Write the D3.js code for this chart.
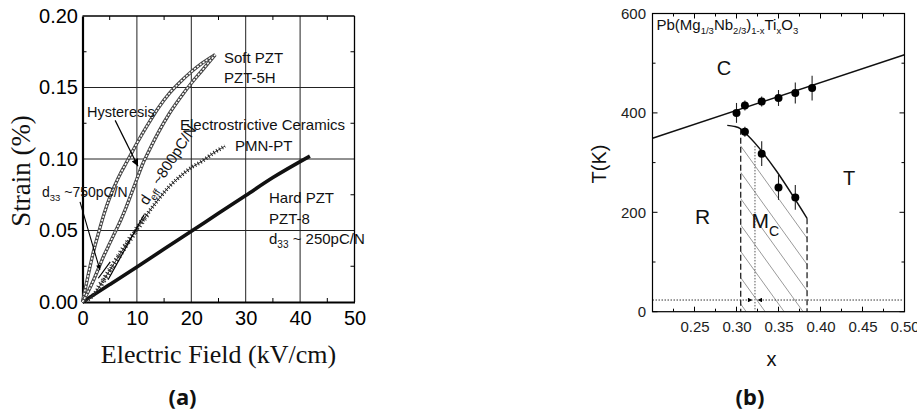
<!DOCTYPE html>
<html><head><meta charset="utf-8">
<script src="https://cdn.jsdelivr.net/npm/d3@7"></script>
<style>body{margin:0;background:#fff}svg{display:block}</style>
</head><body>
<svg id="c" width="917" height="419"></svg>
<script>
// ---------- Panel (a) data ----------
const fieldTicks = [0, 10, 20, 30, 40, 50];
const fieldMinor = [5, 15, 25, 35, 45];
const strainTicks = [0.00, 0.05, 0.10, 0.15, 0.20];
const strainMinor = [0.025, 0.075, 0.125, 0.175];

// Soft PZT (PZT-5H) hysteresis loop: outer (field decreasing) and inner (field increasing) branch
const softOuterE = [0, 0.5, 1, 2, 3, 4, 5, 6, 7, 8, 9, 10, 12, 14, 16, 18, 20, 22, 24.4];
const softOuterS = [0, 0.009, 0.018, 0.035, 0.049, 0.062, 0.073, 0.082, 0.090, 0.097, 0.104, 0.111, 0.124, 0.136, 0.146, 0.154, 0.161, 0.167, 0.173];
const softInnerE = [0, 1, 2, 3, 4, 5, 6, 7, 8, 9, 10, 11, 12, 14, 16, 18, 20, 22, 24.4];
const softInnerS = [0, 0.007, 0.015, 0.024, 0.033, 0.041, 0.049, 0.057, 0.066, 0.076, 0.086, 0.096, 0.104, 0.119, 0.132, 0.143, 0.153, 0.162, 0.173];
// Electrostrictive PMN-PT
const pmnE = [0, 1, 2, 3, 4, 6, 8, 10, 12, 14, 16, 18, 20, 22, 24, 26.2];
const pmnS = [0, 0.0015, 0.005, 0.010, 0.016, 0.028, 0.040, 0.051, 0.062, 0.072, 0.081, 0.088, 0.094, 0.0985, 0.104, 0.109];
// Hard PZT (PZT-8)
const hardE = [0, 5, 10, 15, 20, 25, 30, 35, 41.8];
const hardS = [0, 0.0122, 0.0245, 0.037, 0.0495, 0.062, 0.0745, 0.087, 0.102];
// annotation segments [E, strain]
const d33Tangent = [[2.9, 0.0166], [5.1, 0.028]];
const deffTangent = [[4.7, 0.0155], [11.3, 0.061]];
const hystArrow = [[6.0, 0.127], [10.2, 0.095]];
const d33Arrow = [[-0.46, 0.070], [3.2, 0.0224]];

// ---------- Panel (b) data ----------
const xTicksB = [0.25, 0.30, 0.35, 0.40, 0.45, 0.50];
const xMinorB = [0.225, 0.275, 0.325, 0.375, 0.425, 0.475];
const tTicks = [0, 200, 400, 600];
const tMinor = [100, 300, 500];
const tcX = [0.30, 0.31, 0.33, 0.35, 0.37, 0.39];
const tcT = [400, 415, 423, 430, 440, 450];
const tcErr = [20, 10, 10, 16, 21, 25];
const ttX = [0.31, 0.33, 0.35, 0.37];
const ttT = [362, 318, 250, 230];
const ttErr = [10, 25, 25, 25];
const cLineX = [0.20, 0.50];
const cLineT = [349, 517];
const tBoundX = [0.289, 0.297, 0.305, 0.312, 0.384];
const tBoundT = [375, 373, 368, 357, 188];
const mcEdgeX = [0.305, 0.384];
const mcEdgeTop = [368, 188];
const dottedX = 0.322;
const dottedT = 23.5;
const arrowLeftX = [0.20, 0.319];
const arrowRightX = [0.497, 0.325];

const svg = d3.select('#c');
const defs = svg.append('defs');
function marker(id, w, h) {
  defs.append('marker').attr('id', id).attr('viewBox', '0 0 10 10')
    .attr('refX', 10).attr('refY', 5).attr('markerWidth', w).attr('markerHeight', h)
    .attr('markerUnits', 'userSpaceOnUse').attr('orient', 'auto')
    .append('path').attr('d', 'M0,0L10,5L0,10Z').attr('fill', '#000');
}
marker('ahBig', 12, 7);
marker('ahSmall', 7, 5);
marker('ahTiny', 6, 4.5);

const SANS = 'Arial, "Liberation Sans", Helvetica, sans-serif';
const SERIF = '"Times New Roman", "Liberation Serif", serif';
const zip = (a, b) => a.map((v, i) => [v, b[i]]);

// ================= Panel (a) =================
const xa = d3.scaleLinear().domain([0, 50]).range([82.5, 354.5]);
const ya = d3.scaleLinear().domain([0, 0.2]).range([302, 16]);
const ga = svg.append('g');

// grid
ga.append('g').selectAll('line').data(fieldTicks.slice(1, -1)).join('line')
  .attr('x1', d => xa(d)).attr('x2', d => xa(d)).attr('y1', ya(0)).attr('y2', ya(0.2))
  .attr('stroke', '#222').attr('stroke-width', 1);
ga.append('g').selectAll('line').data(strainTicks.slice(1, -1)).join('line')
  .attr('y1', d => ya(d)).attr('y2', d => ya(d)).attr('x1', xa(0)).attr('x2', xa(50))
  .attr('stroke', '#222').attr('stroke-width', 1);
// minor ticks (inward, all sides)
ga.append('g').selectAll('line').data(fieldMinor).join('line')
  .attr('x1', d => xa(d)).attr('x2', d => xa(d)).attr('y1', ya(0)).attr('y2', ya(0) - 4)
  .attr('stroke', '#000').attr('stroke-width', 1);
ga.append('g').selectAll('line').data(fieldMinor).join('line')
  .attr('x1', d => xa(d)).attr('x2', d => xa(d)).attr('y1', ya(0.2)).attr('y2', ya(0.2) + 4)
  .attr('stroke', '#000').attr('stroke-width', 1);
ga.append('g').selectAll('line').data(strainMinor).join('line')
  .attr('y1', d => ya(d)).attr('y2', d => ya(d)).attr('x1', xa(0)).attr('x2', xa(0) + 4)
  .attr('stroke', '#000').attr('stroke-width', 1);
ga.append('g').selectAll('line').data(strainMinor).join('line')
  .attr('y1', d => ya(d)).attr('y2', d => ya(d)).attr('x1', xa(50)).attr('x2', xa(50) - 4)
  .attr('stroke', '#000').attr('stroke-width', 1);
// frame
ga.append('line').attr('x1', xa(0)).attr('x2', xa(50)).attr('y1', ya(0.2)).attr('y2', ya(0.2)).attr('stroke', '#000').attr('stroke-width', 1.3);
ga.append('line').attr('x1', xa(50)).attr('x2', xa(50)).attr('y1', ya(0)).attr('y2', ya(0.2)).attr('stroke', '#000').attr('stroke-width', 1.3);

// axes
const axA = ga.append('g').attr('transform', `translate(0,${ya(0)})`)
  .call(d3.axisBottom(xa).tickValues(fieldTicks).tickSize(0).tickPadding(9).tickFormat(d3.format('d')));
const ayA = ga.append('g').attr('transform', `translate(${xa(0)},0)`)
  .call(d3.axisLeft(ya).tickValues(strainTicks).tickSize(0).tickPadding(4.5).tickFormat(d3.format('.2f')));
[axA, ayA].forEach(a => {
  a.select('.domain').attr('stroke', '#000').attr('stroke-width', 2.2);
  a.selectAll('text').attr('font-family', SANS).attr('font-size', 20).attr('fill', '#000');
});

const lineA = d3.line().x(d => xa(d[0])).y(d => ya(d[1]));
const curveA = d3.line().curve(d3.curveMonotoneX).x(d => xa(d[0])).y(d => ya(d[1]));

// Hard PZT
ga.append('path').attr('d', curveA(zip(hardE, hardS))).attr('fill', 'none')
  .attr('stroke', '#111').attr('stroke-width', 3.6);
// PMN-PT (triangles)
const pmnPts = zip(pmnE, pmnS);
ga.append('path').attr('d', curveA(pmnPts)).attr('fill', 'none')
  .attr('stroke', '#333').attr('stroke-width', 1);
ga.append('path').attr('d', curveA(pmnPts)).attr('fill', 'none')
  .attr('stroke', '#222').attr('stroke-width', 4).attr('stroke-dasharray', '1,2.2');
ga.append('path').attr('d', curveA(pmnPts.filter(p => p[0] >= 3 && p[0] <= 12))).attr('fill', 'none')
  .attr('stroke', '#333').attr('stroke-width', 6).attr('stroke-dasharray', '0.9,3.2');
// Soft PZT loop (open circles)
[zip(softOuterE, softOuterS), zip(softInnerE, softInnerS)].forEach(pts => {
  ga.append('path').attr('d', curveA(pts)).attr('fill', 'none')
    .attr('stroke', '#444').attr('stroke-width', 3.4);
  ga.append('path').attr('d', curveA(pts)).attr('fill', 'none')
    .attr('stroke', '#fff').attr('stroke-width', 1.5).attr('stroke-dasharray', '2.2,1.4');
});

// annotation lines
ga.append('path').attr('d', lineA(d33Tangent)).attr('stroke', '#000').attr('stroke-width', 1.2);
ga.append('path').attr('d', lineA(deffTangent)).attr('stroke', '#000').attr('stroke-width', 1.2);
ga.append('path').attr('d', lineA(hystArrow)).attr('stroke', '#000').attr('stroke-width', 1.2).attr('marker-end', 'url(#ahBig)');
ga.append('path').attr('d', lineA(d33Arrow)).attr('stroke', '#000').attr('stroke-width', 1.1).attr('marker-end', 'url(#ahSmall)');

// texts
function txt(g, x, y, s, size, opts = {}) {
  const t = g.append('text').attr('x', x).attr('y', y).attr('font-family', opts.family || SANS)
    .attr('font-size', size).attr('fill', '#111').attr('text-anchor', opts.anchor || 'start');
  if (opts.weight) t.attr('font-weight', opts.weight);
  if (opts.transform) t.attr('transform', opts.transform);
  if (Array.isArray(s)) {
    s.forEach(p => {
      const ts = t.append('tspan').text(p.t);
      if (p.sub) ts.attr('font-size', p.size || size * 0.62).attr('dy', p.dy);
      else if (p.dy) ts.attr('dy', p.dy);
    });
  } else t.text(s);
  return t;
}
txt(ga, 224, 62.5, 'Soft PZT', 15);
txt(ga, 224, 83, 'PZT-5H', 15);
txt(ga, 87, 117, 'Hysteresis', 14.5);
txt(ga, 180, 129.5, 'Electrostrictive Ceramics', 15);
txt(ga, 235, 150.5, 'PMN-PT', 15);
txt(ga, 269, 202.5, 'Hard PZT', 15);
txt(ga, 269, 223.5, 'PZT-8', 15);
txt(ga, 269, 244, [{t: 'd'}, {t: '33', sub: true, dy: 4, size: 10}, {t: ' ~ 250pC/N', dy: -4}], 15);
txt(ga, 42, 197, [{t: 'd'}, {t: '33', sub: true, dy: 4, size: 9.5}, {t: ' ~750pC/N', dy: -4}], 14);
txt(ga, 0, 0, [{t: 'd'}, {t: 'eff', sub: true, dy: 4, size: 10}, {t: ' ~800pC/N', dy: -4}], 15,
  {transform: 'translate(147,206) rotate(-57)'});
txt(ga, 218.5, 363, 'Electric Field (kV/cm)', 26, {family: SERIF, anchor: 'middle'});
txt(ga, 0, 0, 'Strain (%)', 27, {family: SERIF, anchor: 'middle', transform: 'translate(30,171) rotate(-90)'});
txt(ga, 182.5, 405, '(a)', 22, {family: '"Noto Sans", "Open Sans", sans-serif', anchor: 'middle', weight: 'bold'});

// ================= Panel (b) =================
const xb = d3.scaleLinear().domain([0.2, 0.5]).range([652.5, 904.5]);
const yb = d3.scaleLinear().domain([0, 600]).range([311.7, 13.5]);
const gb = svg.append('g');
const lineB = d3.line().x(d => xb(d[0])).y(d => yb(d[1]));

// hatch in M_C region (lines parallel to the T/M_C boundary)
const topSeg = d3.scaleLinear().domain([tBoundX[3], tBoundX[4]]).range([tBoundT[3], tBoundT[4]]);
defs.append('clipPath').attr('id', 'mcClip').append('rect')
  .attr('x', xb(mcEdgeX[0])).attr('y', yb(600)).attr('width', xb(mcEdgeX[1]) - xb(mcEdgeX[0])).attr('height', yb(0) - yb(600));
const hatchG = gb.append('g').attr('clip-path', 'url(#mcClip)');
const hatchOffsets = d3.range(0, 7).map(k => 40 + 53 * k);
hatchOffsets.forEach(off => {
  hatchG.append('path').attr('d', lineB([[0.29, topSeg(0.29) - off], [0.45, topSeg(0.45) - off]]))
    .attr('stroke', '#9a9a9a').attr('stroke-width', 1).attr('fill', 'none');
});

// dashed vertical edges
mcEdgeX.forEach((x, i) => {
  gb.append('path').attr('d', lineB([[x, mcEdgeTop[i]], [x, 0]]))
    .attr('stroke', '#222').attr('stroke-width', 1.3).attr('stroke-dasharray', '6,3').attr('fill', 'none');
});
// dotted vertical
gb.append('path').attr('d', lineB([[dottedX, topSeg(dottedX)], [dottedX, 0]]))
  .attr('stroke', '#555').attr('stroke-width', 1).attr('stroke-dasharray', '1.5,1.5');
// dotted horizontal arrows
gb.append('path').attr('d', lineB([[arrowLeftX[0], dottedT], [arrowLeftX[1], dottedT]]))
  .attr('stroke', '#333').attr('stroke-width', 1).attr('stroke-dasharray', '1.5,1.5').attr('marker-end', 'url(#ahTiny)');
gb.append('path').attr('d', lineB([[arrowRightX[0], dottedT], [arrowRightX[1], dottedT]]))
  .attr('stroke', '#333').attr('stroke-width', 1).attr('stroke-dasharray', '1.5,1.5').attr('marker-end', 'url(#ahTiny)');

// boundaries
gb.append('path').attr('d', lineB(zip(cLineX, cLineT))).attr('stroke', '#111').attr('stroke-width', 1.4).attr('fill', 'none');
gb.append('path').attr('d', d3.line().curve(d3.curveMonotoneX).x(d => xb(d[0])).y(d => yb(d[1]))(zip(tBoundX, tBoundT)))
  .attr('stroke', '#111').attr('stroke-width', 1.4).attr('fill', 'none');

// error bars & points
[[tcX, tcT, tcErr], [ttX, ttT, ttErr]].forEach(([X, T, E]) => {
  gb.append('g').selectAll('line').data(X).join('line')
    .attr('x1', d => xb(d)).attr('x2', d => xb(d))
    .attr('y1', (d, i) => yb(T[i] - E[i])).attr('y2', (d, i) => yb(T[i] + E[i]))
    .attr('stroke', '#222').attr('stroke-width', 1.1);
  gb.append('g').selectAll('circle').data(X).join('circle')
    .attr('cx', d => xb(d)).attr('cy', (d, i) => yb(T[i])).attr('r', 4).attr('fill', '#000');
});

// frame and ticks
gb.append('rect').attr('x', xb(0.2)).attr('y', yb(600)).attr('width', xb(0.5) - xb(0.2)).attr('height', yb(0) - yb(600))
  .attr('fill', 'none').attr('stroke', '#000').attr('stroke-width', 1.2);
const tickB = (vals, len, horiz) => {
  vals.forEach(v => {
    if (horiz) {
      gb.append('line').attr('x1', xb(v)).attr('x2', xb(v)).attr('y1', yb(0)).attr('y2', yb(0) - len).attr('stroke', '#000');
      gb.append('line').attr('x1', xb(v)).attr('x2', xb(v)).attr('y1', yb(600)).attr('y2', yb(600) + len).attr('stroke', '#000');
    } else {
      gb.append('line').attr('y1', yb(v)).attr('y2', yb(v)).attr('x1', xb(0.2)).attr('x2', xb(0.2) + len).attr('stroke', '#000');
      gb.append('line').attr('y1', yb(v)).attr('y2', yb(v)).attr('x1', xb(0.5)).attr('x2', xb(0.5) - len).attr('stroke', '#000');
    }
  });
};
tickB(xTicksB, 5, true); tickB(xMinorB, 3, true);
tickB(tTicks, 5, false); tickB(tMinor, 3, false);

const axB = gb.append('g').attr('transform', `translate(0,${yb(0)})`)
  .call(d3.axisBottom(xb).tickValues(xTicksB).tickSize(0).tickPadding(9.5).tickFormat(d3.format('.2f')));
const ayB = gb.append('g').attr('transform', `translate(${xb(0.2)},0)`)
  .call(d3.axisLeft(yb).tickValues(tTicks).tickSize(0).tickPadding(6.5).tickFormat(d3.format('d')));
[axB, ayB].forEach(a => {
  a.select('.domain').remove();
  a.selectAll('text').attr('font-family', SANS).attr('font-size', 15).attr('fill', '#222');
});

txt(gb, 656.5, 30, [
  {t: 'Pb(Mg'}, {t: '1/3', sub: true, dy: 4, size: 9.5}, {t: 'Nb', dy: -4},
  {t: '2/3', sub: true, dy: 4, size: 9.5}, {t: ')', dy: -4}, {t: '1-x', sub: true, dy: 4, size: 9.5},
  {t: 'Ti', dy: -4}, {t: 'x', sub: true, dy: 4, size: 9.5}, {t: 'O', dy: -4}, {t: '3', sub: true, dy: 4, size: 9.5}
], 15);
txt(gb, 724, 75, 'C', 20, {anchor: 'middle'});
txt(gb, 849, 185, 'T', 20, {anchor: 'middle'});
txt(gb, 702.5, 223.5, 'R', 21, {anchor: 'middle'});
txt(gb, 751.5, 227.5, [{t: 'M'}, {t: 'C', sub: true, dy: 8, size: 14}], 21);
txt(gb, 771.5, 366, 'x', 20, {anchor: 'middle'});
txt(gb, 0, 0, 'T(K)', 20, {anchor: 'middle', transform: 'translate(605.5,164) rotate(-90)'});
txt(gb, 750, 405, '(b)', 22, {family: '"Noto Sans", "Open Sans", sans-serif', anchor: 'middle', weight: 'bold'});
</script>
</body></html>
